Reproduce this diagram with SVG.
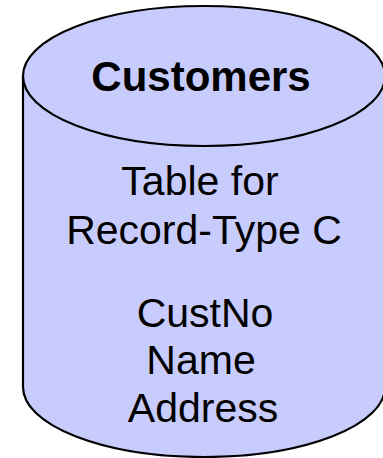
<svg xmlns="http://www.w3.org/2000/svg" width="383" height="458" viewBox="0 0 383 458">
<style>
.body{fill:#C8CCFC;stroke:#000;stroke-width:2.2}
.t{font-family:"Liberation Sans",Arial,sans-serif;font-size:41px;fill:#000;text-anchor:middle}
.b{font-weight:bold;font-size:42px}
</style>
<rect width="383" height="458" fill="#fff"/>
<g id="customers">
<path class="body" d="M23,76 L23,387 A181,70 0 0 0 385,387 L385,76 Z"/>
<ellipse class="body" cx="204" cy="76" rx="181" ry="70"/>
<text class="t b" x="201" y="91">Customers</text>
<text class="t" x="200" y="195">Table for</text>
<text class="t" x="204" y="244">Record-Type C</text>
<text class="t" x="205" y="327">CustNo</text>
<text class="t" x="201" y="374">Name</text>
<text class="t" x="203" y="422">Address</text>
</g>
</svg>
